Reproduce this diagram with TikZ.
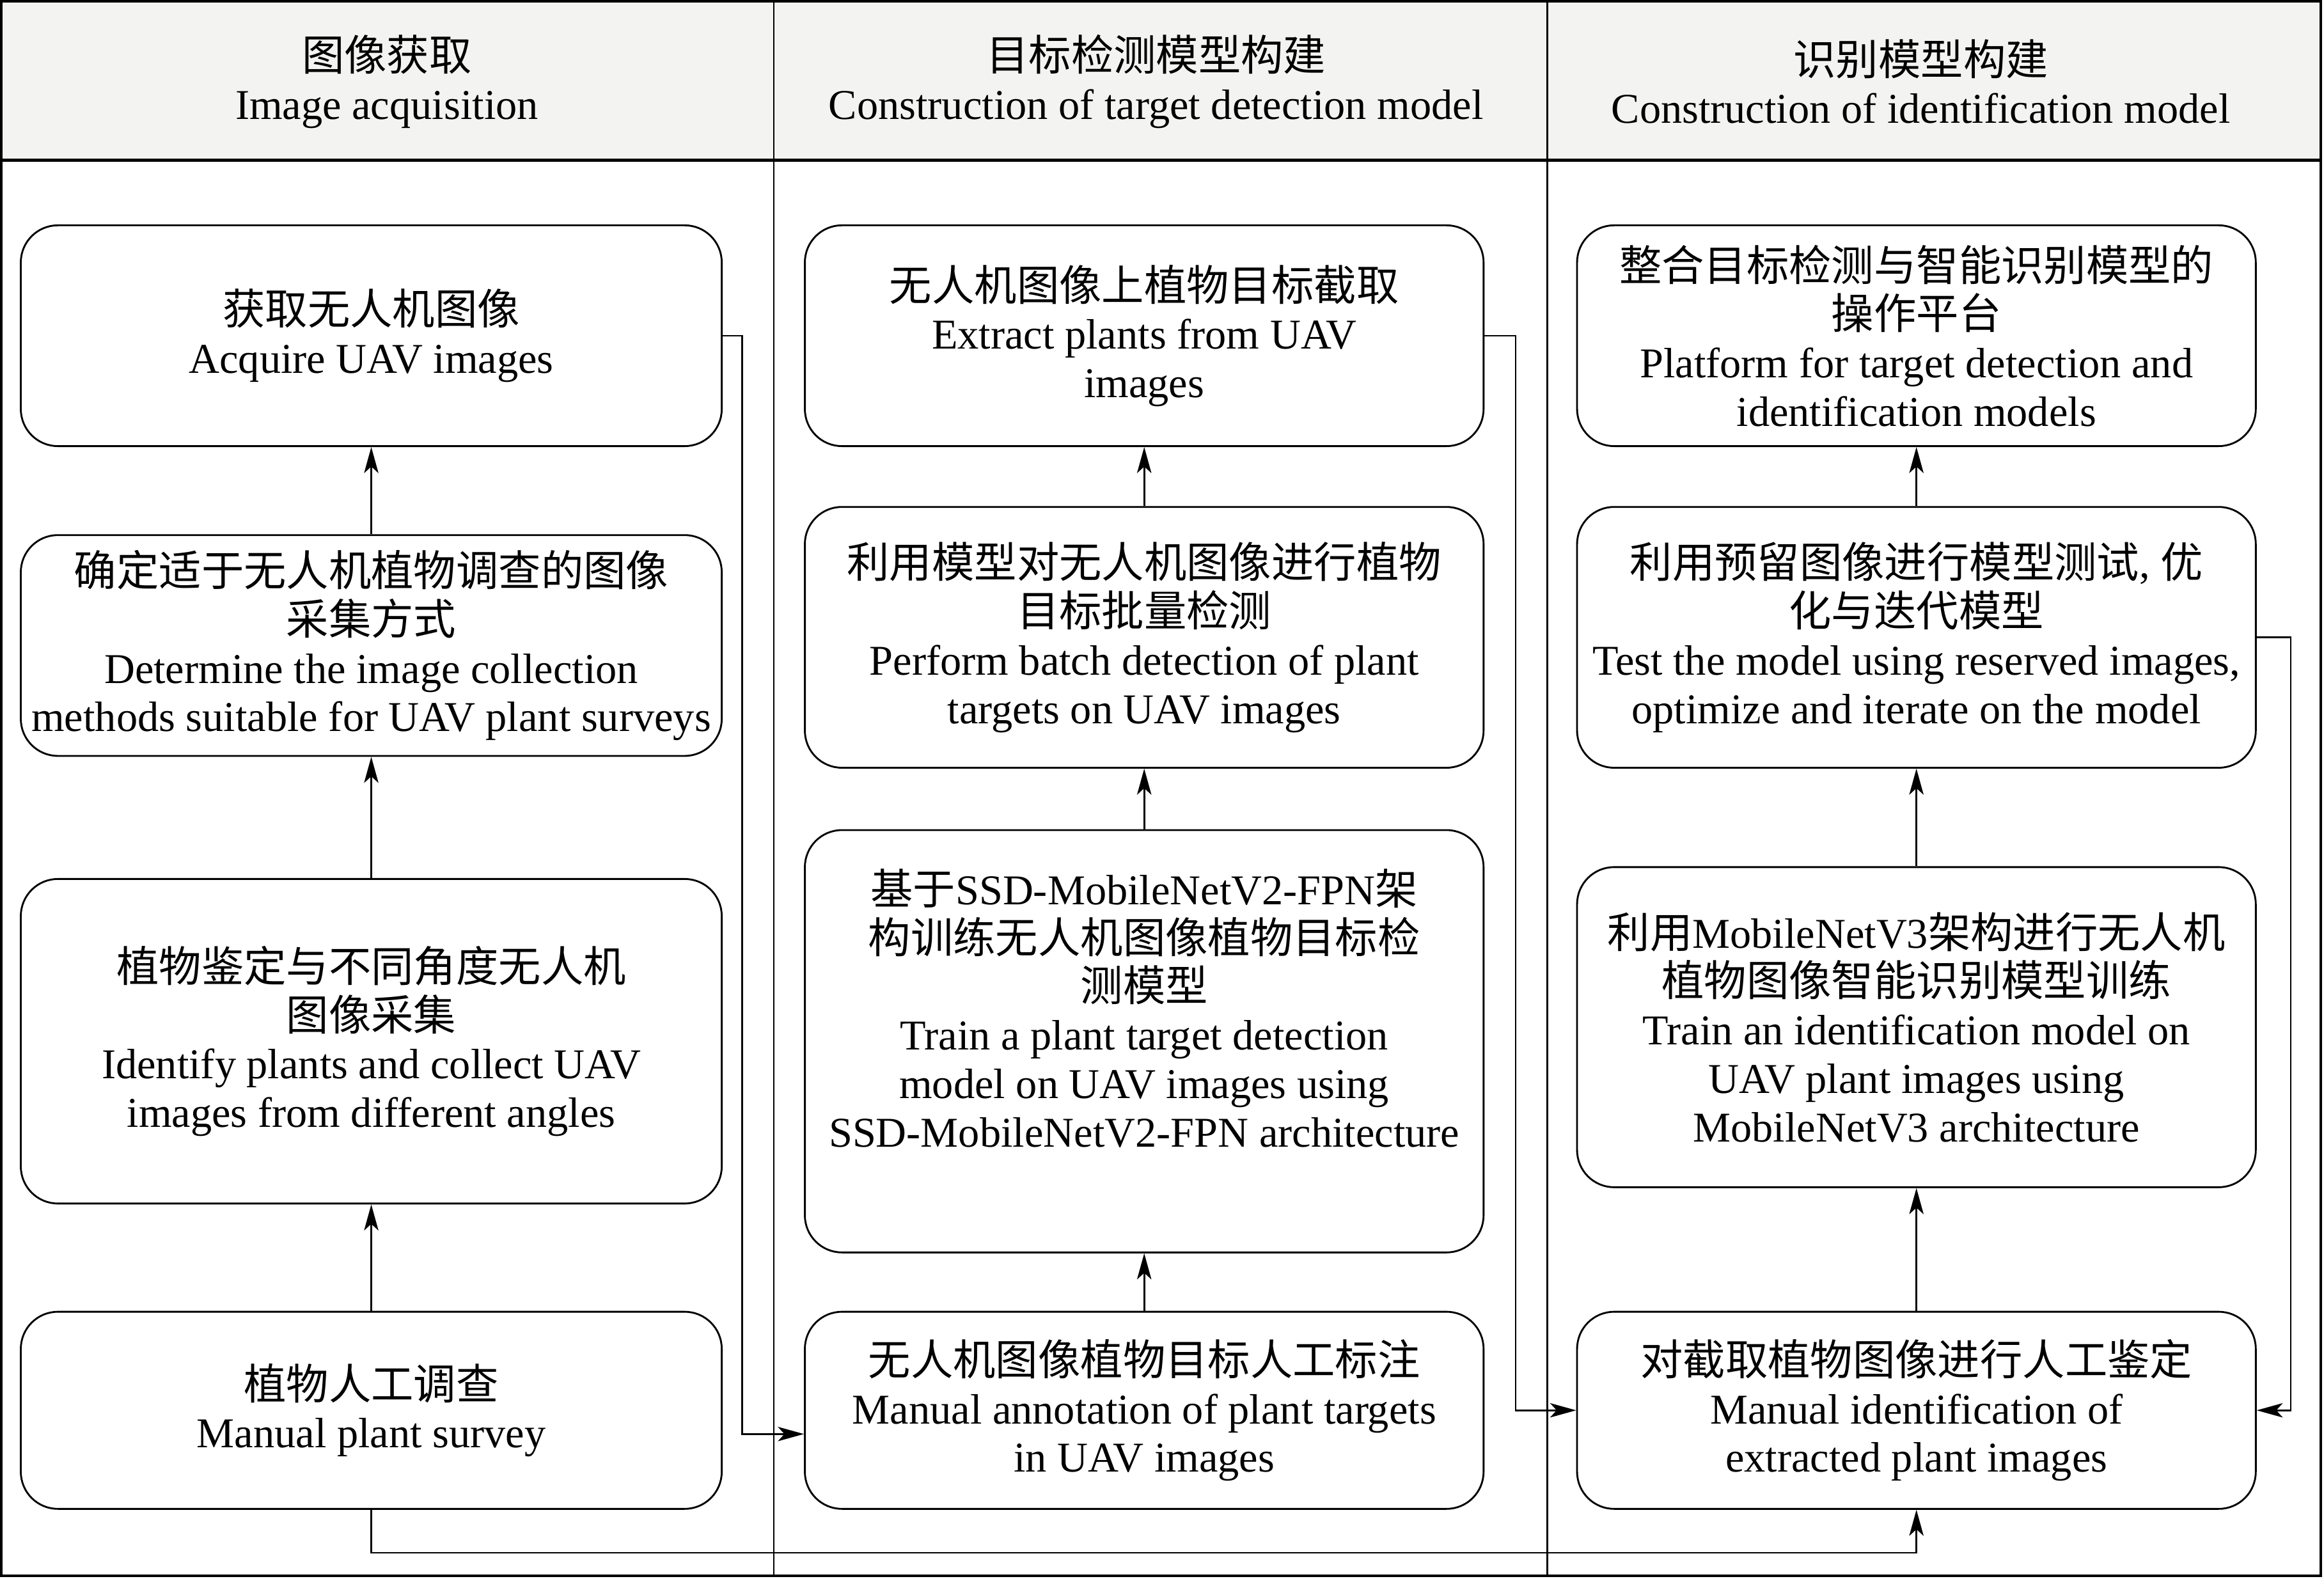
\documentclass[tikz,border=0pt]{standalone}
\usepackage{fontspec}
\setmainfont{Liberation Serif}
\newfontfamily\cjk{Noto Sans CJK SC}
\usepackage{tikz}
\usetikzlibrary{arrows.meta}
\definecolor{headgray}{RGB}{243,243,241}
\tikzset{
  stepbox/.style={draw, rounded corners=0.5cm, line width=0.7pt, align=center, inner sep=2pt},
  arr/.style={-{Stealth[length=10pt,width=5.5pt,inset=2.5pt]}, line width=0.7pt}
}
\begin{document}
\begin{tikzpicture}[x=0.02cm, y=-0.02cm, every node/.style={font=\fontsize{16.3}{18.6}\selectfont}]
\useasboundingbox (0,0) rectangle (1568,1065);
%Header band and frame
\filldraw[fill=headgray, draw=none] (1,1) rectangle (1566,108);
\draw[line width=1pt] (1,1) rectangle (1566,1063);
\draw[line width=1.3pt] (1,108) -- (1566,108);
\draw[line width=0.5pt] (522,1) -- (522,1063);
\draw[line width=0.8pt] (1044,1) -- (1044,1063);
\node[align=center] (head1) at (261,55) {{\cjk 图像获取}\\Image acquisition};
\node[align=center] (head2) at (780,55) {{\cjk 目标检测模型构建}\\Construction of target detection model};
\node[align=center] (head3) at (1296,55) {{\cjk 识别模型构建}\\Construction of identification model};
%Image acquisition
\node[stepbox, minimum width=9.46cm, minimum height=2.98cm] (acquire) at (250.5,226.5) {{\cjk 获取无人机图像}\\Acquire UAV images};
\node[stepbox, minimum width=9.46cm, minimum height=2.98cm] (method) at (250.5,435.5) {{\cjk 确定适于无人机植物调查的图像}\\{\cjk 采集方式}\\Determine the image collection\\methods suitable for UAV plant surveys};
\node[stepbox, minimum width=9.46cm, minimum height=4.38cm] (collect) at (250.5,702.5) {{\cjk 植物鉴定与不同角度无人机}\\{\cjk 图像采集}\\Identify plants and collect UAV\\images from different angles};
\node[stepbox, minimum width=9.46cm, minimum height=2.66cm] (survey) at (250.5,951.5) {{\cjk 植物人工调查}\\Manual plant survey};
%Target detection model
\node[stepbox, minimum width=9.16cm, minimum height=2.98cm] (extract) at (772,226.5) {{\cjk 无人机图像上植物目标截取}\\Extract plants from UAV\\images};
\node[stepbox, minimum width=9.16cm, minimum height=3.52cm] (detect) at (772,430) {{\cjk 利用模型对无人机图像进行植物}\\{\cjk 目标批量检测}\\Perform batch detection of plant\\targets on UAV images};
\node[stepbox, minimum width=9.16cm, minimum height=5.70cm] (train) at (772,702.5) {{\cjk 基于}SSD-MobileNetV2-FPN{\cjk 架}\\{\cjk 构训练无人机图像植物目标检}\\{\cjk 测模型}\\Train a plant target detection\\model on UAV images using\\SSD-MobileNetV2-FPN architecture\\[0.25cm]};
\node[stepbox, minimum width=9.16cm, minimum height=2.66cm] (annotate) at (772,951.5) {{\cjk 无人机图像植物目标人工标注}\\Manual annotation of plant targets\\in UAV images};
%Identification model
\node[stepbox, minimum width=9.16cm, minimum height=2.98cm] (platform) at (1293,226.5) {{\cjk 整合目标检测与智能识别模型的}\\{\cjk 操作平台}\\Platform for target detection and\\identification models};
\node[stepbox, minimum width=9.16cm, minimum height=3.52cm] (test) at (1293,430) {{\cjk 利用预留图像进行模型测试}, {\cjk 优}\\{\cjk 化与迭代模型}\\Test the model using reserved images,\\optimize and iterate on the model};
\node[stepbox, minimum width=9.16cm, minimum height=4.32cm] (ident) at (1293,693) {{\cjk 利用}MobileNetV3{\cjk 架构进行无人机}\\{\cjk 植物图像智能识别模型训练}\\Train an identification model on\\UAV plant images using\\MobileNetV3 architecture};
\node[stepbox, minimum width=9.16cm, minimum height=2.66cm] (manual) at (1293,951.5) {{\cjk 对截取植物图像进行人工鉴定}\\Manual identification of\\extracted plant images};
%Connectors
\draw[arr] (survey) -- (collect);
\draw[arr] (collect) -- (method);
\draw[arr] (method) -- (acquire);
\draw[arr] (annotate) -- (train);
\draw[arr] (train) -- (detect);
\draw[arr] (detect) -- (extract);
\draw[arr] (manual) -- (ident);
\draw[arr] (ident) -- (test);
\draw[arr] (test) -- (platform);
\draw[arr] (acquire.east) -- ++(13,0) |- ([yshift=-0.32cm]annotate.west);
\draw[arr] (extract.east) -- ++(21,0) |- (manual.west);
\draw[arr] (test.east) -- ++(23,0) |- (manual.east);
\draw[arr] (survey.south) -- ++(0,29) -| (manual.south);
\end{tikzpicture}
\end{document}
